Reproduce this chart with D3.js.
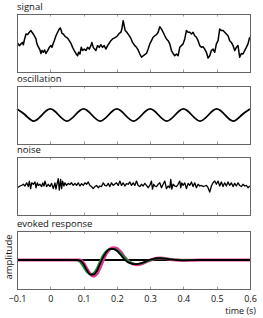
<!DOCTYPE html>
<html><head><meta charset="utf-8">
<script src="https://cdn.jsdelivr.net/npm/d3@7"></script>
<style>body{margin:0;background:#fff}svg{display:block}</style></head>
<body>
<script>
// ---------- data ----------
const panelNames = ["signal", "oscillation", "noise", "evoked response"];
const xTicks = [-0.1, 0, 0.1, 0.2, 0.3, 0.4, 0.5, 0.6];

const signalTime = [-0.098,-0.093,-0.088,-0.083,-0.081,-0.078,-0.073,-0.068,-0.063,-0.058,-0.055,-0.051,-0.048,-0.043,-0.041,-0.038,-0.035,-0.031,-0.028,-0.025,-0.021,-0.017,-0.013,-0.008,-0.003,0.002,0.005,0.009,0.012,0.017,0.022,0.027,0.030,0.033,0.035,0.039,0.045,0.052,0.057,0.062,0.067,0.072,0.077,0.082,0.085,0.089,0.093,0.097,0.102,0.107,0.112,0.117,0.122,0.125,0.129,0.133,0.137,0.142,0.147,0.152,0.157,0.162,0.167,0.172,0.177,0.182,0.187,0.192,0.197,0.202,0.207,0.212,0.215,0.219,0.222,0.225,0.230,0.235,0.239,0.243,0.247,0.254,0.259,0.264,0.269,0.274,0.279,0.284,0.289,0.294,0.299,0.304,0.309,0.314,0.319,0.324,0.329,0.334,0.339,0.344,0.349,0.354,0.359,0.364,0.369,0.374,0.379,0.384,0.389,0.394,0.399,0.404,0.409,0.414,0.419,0.424,0.429,0.434,0.439,0.444,0.449,0.454,0.459,0.464,0.469,0.474,0.479,0.484,0.489,0.494,0.499,0.504,0.509,0.514,0.519,0.524,0.529,0.534,0.539,0.544,0.549,0.554,0.559,0.564,0.569,0.574,0.579,0.584,0.589,0.594,0.599];
const signalValue = [-0.01,-0.09,-0.03,0.02,-0.06,0.10,0.31,0.29,0.37,0.43,0.37,0.31,0.25,0.14,0.02,-0.09,-0.15,-0.24,-0.36,-0.26,-0.32,-0.24,-0.36,-0.26,-0.15,-0.09,-0.15,-0.01,0.08,0.25,0.37,0.48,0.52,0.43,0.33,0.31,0.22,0.17,0.08,-0.01,-0.15,-0.26,-0.36,-0.44,-0.32,-0.38,-0.15,-0.26,-0.21,-0.26,-0.15,-0.21,-0.09,0.02,-0.15,-0.21,-0.26,-0.09,-0.15,-0.06,-0.15,-0.09,-0.21,-0.09,-0.01,0.08,0.14,0.17,0.20,0.25,0.33,0.37,0.48,0.77,0.60,0.43,0.37,0.29,0.22,0.14,0.02,-0.09,-0.15,-0.24,-0.38,-0.49,-0.44,-0.40,-0.36,-0.21,-0.03,0.08,0.20,0.25,0.29,0.37,0.56,0.48,0.37,0.25,0.14,0.08,-0.03,-0.26,-0.36,-0.44,-0.38,-0.44,-0.15,-0.09,-0.03,0.14,0.43,0.37,0.37,0.31,0.37,0.25,0.20,0.08,-0.09,-0.15,-0.13,-0.21,-0.32,-0.52,-0.44,-0.26,-0.21,-0.32,-0.03,0.08,0.48,0.43,0.43,0.37,0.31,0.25,0.08,0.02,-0.09,-0.26,-0.15,-0.09,-0.49,-0.36,-0.38,-0.26,-0.15,-0.03,0.20];

const oscTime = [-0.1,-0.075,-0.05,-0.025,0,0.025,0.05,0.075,0.1,0.125,0.15,0.175,0.2,0.225,0.25,0.275,0.3,0.325,0.35,0.375,0.4,0.425,0.45,0.475,0.5,0.525,0.55,0.575,0.6];
const oscValue = [0.21,0,-0.21,0,0.21,0,-0.21,0,0.21,0,-0.21,0,0.21,0,-0.21,0,0.21,0,-0.21,0,0.21,0,-0.21,0,0.21,0,-0.21,0,0.21];

const noiseTime = [-0.099,-0.091,-0.086,-0.081,-0.076,-0.071,-0.066,-0.063,-0.059,-0.056,-0.051,-0.046,-0.043,-0.039,-0.036,-0.031,-0.026,-0.023,-0.019,-0.016,-0.011,-0.006,-0.001,0.004,0.009,0.014,0.017,0.021,0.024,0.027,0.031,0.034,0.037,0.041,0.044,0.049,0.054,0.059,0.064,0.069,0.074,0.079,0.084,0.089,0.094,0.099,0.104,0.109,0.114,0.119,0.124,0.129,0.134,0.139,0.144,0.149,0.154,0.159,0.164,0.169,0.174,0.179,0.184,0.189,0.194,0.199,0.204,0.209,0.214,0.219,0.224,0.229,0.234,0.239,0.244,0.249,0.254,0.259,0.264,0.269,0.274,0.279,0.284,0.289,0.294,0.299,0.304,0.307,0.311,0.314,0.319,0.324,0.329,0.334,0.339,0.344,0.349,0.354,0.359,0.362,0.365,0.369,0.374,0.379,0.384,0.389,0.392,0.395,0.399,0.404,0.409,0.414,0.419,0.424,0.429,0.434,0.439,0.444,0.449,0.454,0.459,0.464,0.469,0.474,0.479,0.484,0.489,0.494,0.499,0.504,0.509,0.514,0.519,0.524,0.529,0.534,0.539,0.544,0.549,0.554,0.559,0.564,0.569,0.574,0.579,0.584,0.589,0.594,0.599];
const noiseValue = [-0.06,0,0.02,0.06,0,0.11,-0.02,0.17,-0.09,0.11,0.06,0.14,-0.06,0.11,0.02,0.06,-0.02,0.11,0,0.17,-0.02,0.06,-0.02,0.09,-0.09,0.11,-0.11,0.11,0.25,-0.14,0.23,-0.09,0.17,0,0.11,0.02,0.09,0.05,0.11,0.02,0.09,0.02,0.11,0,0.08,0.02,0.11,0.06,0.14,0.02,-0.02,-0.09,-0.02,0.02,-0.06,0,-0.02,0.11,0.02,0,0.09,-0.02,0.11,0.02,0.07,0.11,0.02,0.17,0.02,0.11,0,0.08,0.06,0.14,0.02,0.11,0.02,0.17,0.02,-0.02,0.06,0,0.09,0.02,-0.06,0.02,0.17,-0.11,0.06,0,-0.02,0.06,0.11,-0.06,0.06,0.17,-0.09,0,-0.06,0.23,-0.11,0.06,0,-0.02,0.06,0.17,-0.06,0.11,0.02,0.11,-0.09,0.09,0.02,0.14,-0.02,0.11,-0.06,0.06,0,0.02,-0.02,0,0.02,-0.06,-0.21,0,0.11,0.17,0.06,0.17,0,0.14,-0.02,0.11,0,0.14,0.02,0.11,-0.02,0.09,0,0.11,0.02,-0.02,0.06,0,0.02,-0.06,0];

const evokedTime = [-0.1,0.08,0.09,0.1,0.11,0.12,0.13,0.14,0.15,0.16,0.17,0.18,0.19,0.2,0.21,0.22,0.23,0.24,0.25,0.26,0.27,0.28,0.29,0.3,0.31,0.32,0.33,0.34,0.35,0.36,0.38,0.4,0.45,0.5,0.6];
const evokedMagenta = [0,0,0,-0.1,-0.3,-0.48,-0.56,-0.48,-0.25,0.02,0.25,0.38,0.42,0.4,0.3,0.15,0.01,-0.09,-0.14,-0.16,-0.15,-0.11,-0.06,-0.01,0.03,0.06,0.07,0.06,0.04,0.02,0,-0.01,0,0,0];
const evokedGreen = [0,0,-0.08,-0.25,-0.42,-0.5,-0.45,-0.28,-0.02,0.2,0.33,0.38,0.38,0.35,0.26,0.14,0.02,-0.07,-0.12,-0.14,-0.13,-0.1,-0.06,-0.01,0.03,0.05,0.06,0.06,0.05,0.03,0.01,0,0,0,0];
const evokedBlack = [0,0,-0.02,-0.15,-0.35,-0.5,-0.5,-0.38,-0.12,0.12,0.3,0.38,0.38,0.32,0.2,0.06,-0.05,-0.11,-0.14,-0.14,-0.12,-0.08,-0.03,0.01,0.04,0.06,0.06,0.05,0.04,0.02,0,-0.01,0,0,0];

// ---------- drawing ----------
const W = 263, H = 318;
const panelTop = [14, 86, 157, 231];
const panelH = 58;
const x = d3.scaleLinear().domain([-0.1, 0.6]).range([17, 250]);
const font = "'Open Sans', 'Noto Sans', sans-serif";

const svg = d3.select("body").append("svg").attr("width", W).attr("height", H);

function zip(t, v) { return t.map((d, i) => [d, v[i]]); }

const panelSeries = [
  [{ data: zip(signalTime, signalValue), color: "#000", w: 1.5, curve: d3.curveLinear }],
  [{ data: zip(oscTime, oscValue), color: "#000", w: 1.8, curve: d3.curveNatural }],
  [{ data: zip(noiseTime, noiseValue), color: "#000", w: 1.3, curve: d3.curveLinear }],
  [
    { data: zip(evokedTime, evokedMagenta), color: "#e6348f", w: 3, curve: d3.curveMonotoneX },
    { data: zip(evokedTime, evokedGreen), color: "#1a8f3c", w: 1.8, curve: d3.curveMonotoneX },
    { data: zip(evokedTime, evokedBlack), color: "#000", w: 1.8, curve: d3.curveMonotoneX }
  ]
];

panelNames.forEach((name, i) => {
  const top = panelTop[i];
  const y = d3.scaleLinear().domain([-1, 1]).range([top + panelH, top]);
  const g = svg.append("g");

  g.append("text").attr("x", 17).attr("y", top - 4)
    .attr("font-family", font).attr("font-size", 9.5).attr("fill", "#111").text(name);

  // tick marks inside, top and bottom
  const inner = xTicks.slice(1, -1);
  g.selectAll(".tb").data(inner).join("line")
    .attr("x1", d => Math.round(x(d)) + 0.5).attr("x2", d => Math.round(x(d)) + 0.5)
    .attr("y1", top).attr("y2", top + 2.5).attr("stroke", "#999").attr("stroke-width", 1);
  g.selectAll(".bb").data(inner).join("line")
    .attr("x1", d => Math.round(x(d)) + 0.5).attr("x2", d => Math.round(x(d)) + 0.5)
    .attr("y1", top + panelH).attr("y2", top + panelH - 2.5).attr("stroke", "#999").attr("stroke-width", 1);

  if (i === 3) {
    g.append("line").attr("x1", x(-0.1)).attr("x2", x(0.6))
      .attr("y1", y(0)).attr("y2", y(0)).attr("stroke", "#000").attr("stroke-width", 1.8);
  }

  panelSeries[i].forEach(s => {
    const line = d3.line().x(d => x(d[0])).y(d => y(d[1])).curve(s.curve);
    g.append("path").attr("d", line(s.data)).attr("fill", "none")
      .attr("stroke", s.color).attr("stroke-width", s.w).attr("stroke-linejoin", "round");
  });

  g.append("rect").attr("x", 17.5).attr("y", top + 0.5)
    .attr("width", x(0.6) - x(-0.1)).attr("height", panelH)
    .attr("fill", "none").attr("stroke", "#666").attr("stroke-width", 1);

  if (i === 3) {
    const axis = d3.axisBottom(x).tickValues(xTicks).tickSize(0).tickPadding(7)
      .tickFormat(d => d < 0 ? "\u2212" + Math.abs(d) : String(d));
    const ag = g.append("g").attr("transform", `translate(0,${top + panelH})`).call(axis);
    ag.select(".domain").remove();
    ag.selectAll("text").attr("font-family", font).attr("font-size", 9).attr("fill", "#111");

    g.append("text").attr("transform", `translate(12,${top + panelH / 2 - 3}) rotate(-90)`)
      .attr("text-anchor", "middle").attr("font-family", font).attr("font-size", 9.5)
      .attr("fill", "#111").text("amplitude");
    g.append("text").attr("x", 256).attr("y", 314).attr("text-anchor", "end")
      .attr("font-family", font).attr("font-size", 9).attr("fill", "#111").text("time (s)");
  }
});
</script>
</body></html>
